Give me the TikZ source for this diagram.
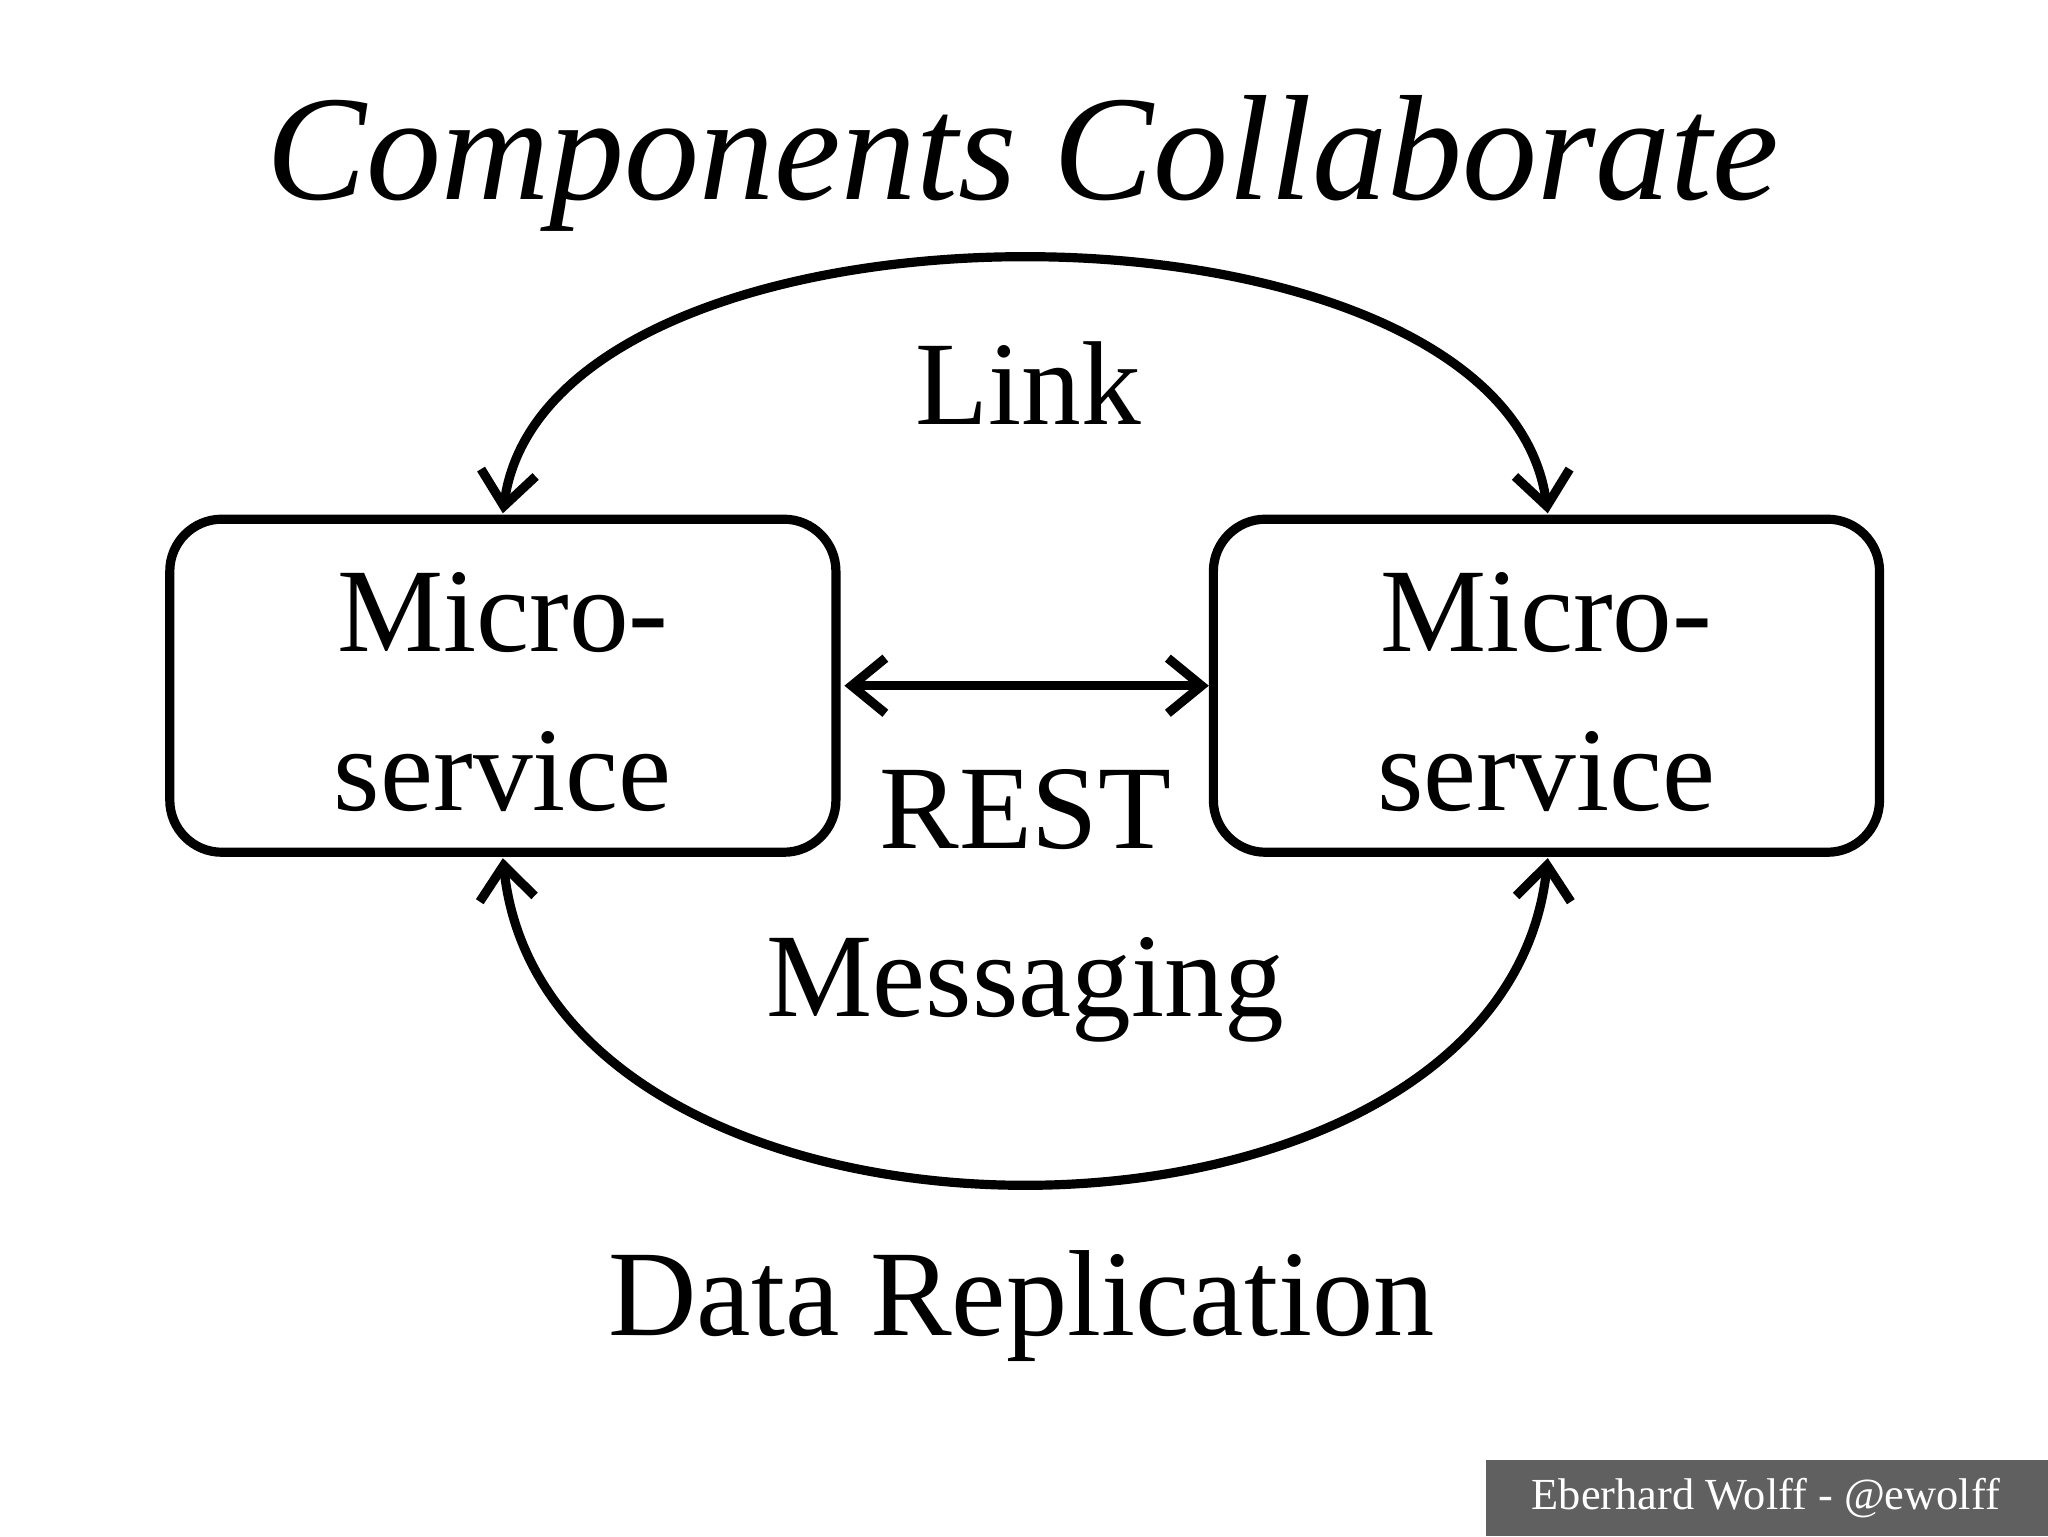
\documentclass[tikz,border=0pt]{standalone}
\usepackage{fontspec}
\setmainfont{Liberation Serif}
\usetikzlibrary{arrows.meta}
\begin{document}
\begin{tikzpicture}[x=0.03cm,y=-0.03cm,
  box/.style={draw,line width=6pt,rounded corners=34pt,minimum width=510*0.03cm,minimum height=255*0.03cm},
  big/.style={font=\fontsize{78}{84}\selectfont,inner sep=0},
  conn/.style={line width=6pt,{Straight Barb[length=22pt,width=36pt,line width=6pt]}-{Straight Barb[length=22pt,width=36pt,line width=6pt]}}]
\useasboundingbox (0,0) rectangle (1568,1176);
\node[big,font=\fontsize{98}{110}\selectfont\itshape] (title) at (783,125) {Components Collaborate};
\node[box] (L) at (385,525) {};
\node[box] (R) at (1184,525) {};
\node[big,align=center,font=\fontsize{78}{104}\selectfont] (lt) at (385,530) {Micro-\\service};
\node[big,align=center,font=\fontsize{78}{104}\selectfont] (rt) at (1184,530) {Micro-\\service};
\node[big] (link) at (787,293) {Link};
\node[big] (rest) at (785,620) {REST};
\node[big] (msg) at (785,758) {Messaging};
\node[big,font=\fontsize{80}{84}\selectfont] (data) at (782,1000) {Data Replication};
\coordinate (lt1) at (385,393);
\coordinate (rt1) at (1185,393);
\coordinate (lb1) at (385,657);
\coordinate (rb1) at (1185,657);
\draw[conn] (lt1) .. controls (420,134) and (1150,134) .. (rt1);
\draw[conn] (lb1) .. controls (420,988) and (1150,988) .. (rb1);
\draw[conn] (L.east) ++(3,0) coordinate (a) -- (R.west);
\fill[gray!75!black] (1138,1118) rectangle (1568,1176);
\node[text=white,font=\fontsize{29}{32}\selectfont] (foot) at (1352,1147) {Eberhard Wolff - @ewolff};
\end{tikzpicture}
\end{document}
